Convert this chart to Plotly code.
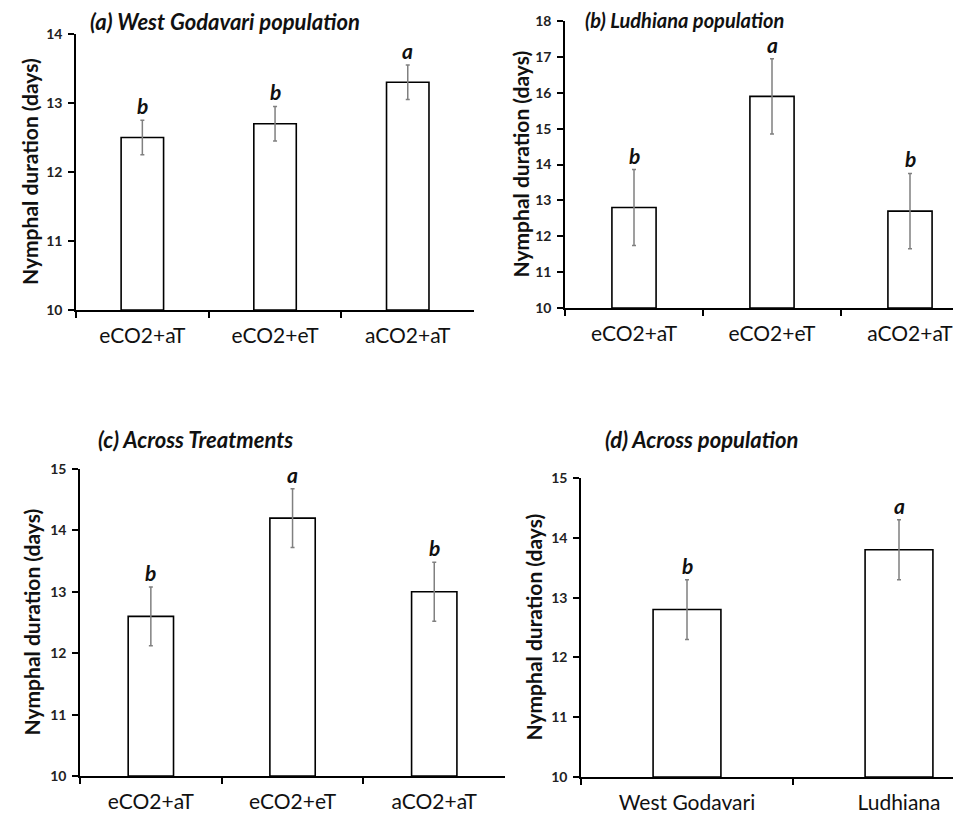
import plotly.graph_objects as go

W, H = 961, 825
OFF_X = 0  # page offset of the plot div inside the browser page
OFF_Y = 8

treatments = ["eCO2+aT", "eCO2+eT", "aCO2+aT"]
populations = ["West Godavari", "Ludhiana"]

a_vals = [12.5, 12.7, 13.3]
a_err = [0.25, 0.25, 0.25]
a_letters = ["b", "b", "a"]

b_vals = [12.8, 15.9, 12.7]
b_err = [1.06, 1.05, 1.05]
b_letters = ["b", "a", "b"]

c_vals = [12.6, 14.2, 13.0]
c_err = [0.48, 0.48, 0.48]
c_letters = ["b", "a", "b"]

d_vals = [12.8, 13.8]
d_err = [0.5, 0.5]
d_letters = ["b", "a"]

titles = ["(a) West Godavari population", "(b) Ludhiana population",
          "(c) Across Treatments", "(d) Across population"]
ytitle = "Nymphal duration (days)"

FONT = "Lato"


def px_x(px):
    return (px - OFF_X) / W


def px_y(py):
    return 1 - (py - OFF_Y) / H


# panel geometry in screen pixels: x0, x1, ytop, ybottom, catwidth
panels = [
    dict(cats=treatments, vals=a_vals, err=a_err, let=a_letters, yr=[10, 14],
         x0=68, x1=466, yt=34, yb=310, cw=132.7, title_xy=(80, 22), tsize=22, yt_x=22),
    dict(cats=treatments, vals=b_vals, err=b_err, let=b_letters, yr=[10, 18],
         x0=557, x1=961, yt=21, yb=308, cw=138.0, title_xy=(575, 20), tsize=20, yt_x=512),
    dict(cats=treatments, vals=c_vals, err=c_err, let=c_letters, yr=[10, 15],
         x0=72, x1=497, yt=469, yb=776, cw=141.7, title_xy=(88, 439), tsize=22, yt_x=23),
    dict(cats=populations, vals=d_vals, err=d_err, let=d_letters, yr=[10, 15],
         x0=573, x1=961, yt=478, yb=777, cw=212.0, title_xy=(595, 439), tsize=22, yt_x=525),
]

fig = go.Figure()
annotations = []
for i, p in enumerate(panels, start=1):
    xa = "x" if i == 1 else f"x{i}"
    ya = "y" if i == 1 else f"y{i}"
    fig.add_trace(go.Bar(
        x=p["cats"], y=[v - p["yr"][0] for v in p["vals"]], base=p["yr"][0],
        width=0.32,
        marker=dict(color="white", line=dict(color="black", width=1.6)),
        error_y=dict(type="data", array=p["err"], color="#808080",
                     thickness=1.5, width=2),
        xaxis=xa, yaxis=ya, showlegend=False,
    ))
    xkey = "xaxis" if i == 1 else f"xaxis{i}"
    ykey = "yaxis" if i == 1 else f"yaxis{i}"
    span = (p["x1"] - p["x0"]) / p["cw"]
    fig.layout[xkey] = dict(
        domain=[px_x(p["x0"]), min(1.0, px_x(p["x1"]))], anchor=ya,
        range=[-0.5, -0.5 + span], type="category",
        showline=True, linecolor="black", linewidth=1.5,
        ticks="outside", ticklen=6, tickwidth=1.5, tickcolor="black",
        tickson="boundaries", showgrid=False, zeroline=False,
        tickfont=dict(family=FONT, size=21, color="#111111"),
        ticklabelstandoff=6, fixedrange=True, automargin=False,
    )
    fig.layout[ykey] = dict(
        domain=[px_y(p["yb"]), px_y(p["yt"])], anchor=xa,
        range=p["yr"], dtick=1, showline=True, linecolor="black", linewidth=1.5,
        ticks="outside", ticklen=6, tickwidth=1.5, tickcolor="black",
        showgrid=False, zeroline=False,
        tickfont=dict(family=FONT, size=14, color="#222222", weight="bold"),
        ticklabelstandoff=3, fixedrange=True, automargin=False,
    )
    # panel title
    tx, ty = p["title_xy"]
    annotations.append(dict(
        text=f"<b><i>{titles[i-1]}</i></b>", xref="paper", yref="paper",
        x=px_x(tx), y=px_y(ty), xanchor="left", yanchor="middle",
        showarrow=False, font=dict(family=FONT, size=p["tsize"], color="#111111"),
    ))
    # y title
    annotations.append(dict(
        text=f"<b>{ytitle}</b>", xref="paper", yref="paper",
        x=px_x(p["yt_x"]), y=px_y((p["yt"] + p["yb"]) / 2),
        xanchor="center", yanchor="middle", textangle=-90,
        showarrow=False, font=dict(family=FONT, size=21, color="#111111"),
    ))
    # significance letters
    for c, v, e, l in zip(p["cats"], p["vals"], p["err"], p["let"]):
        annotations.append(dict(
            text=f"<b><i>{l}</i></b>", xref=xa, yref=ya, x=c, y=v + e,
            xanchor="center", yanchor="bottom", yshift=0, showarrow=False,
            font=dict(family=FONT, size=21, color="#111111"),
        ))

fig.update_layout(
    width=W, height=H,
    margin=dict(l=0, r=0, t=0, b=0, pad=0, autoexpand=False),
    paper_bgcolor="white", plot_bgcolor="white",
    annotations=annotations,
)
fig.write_html("out.html")
